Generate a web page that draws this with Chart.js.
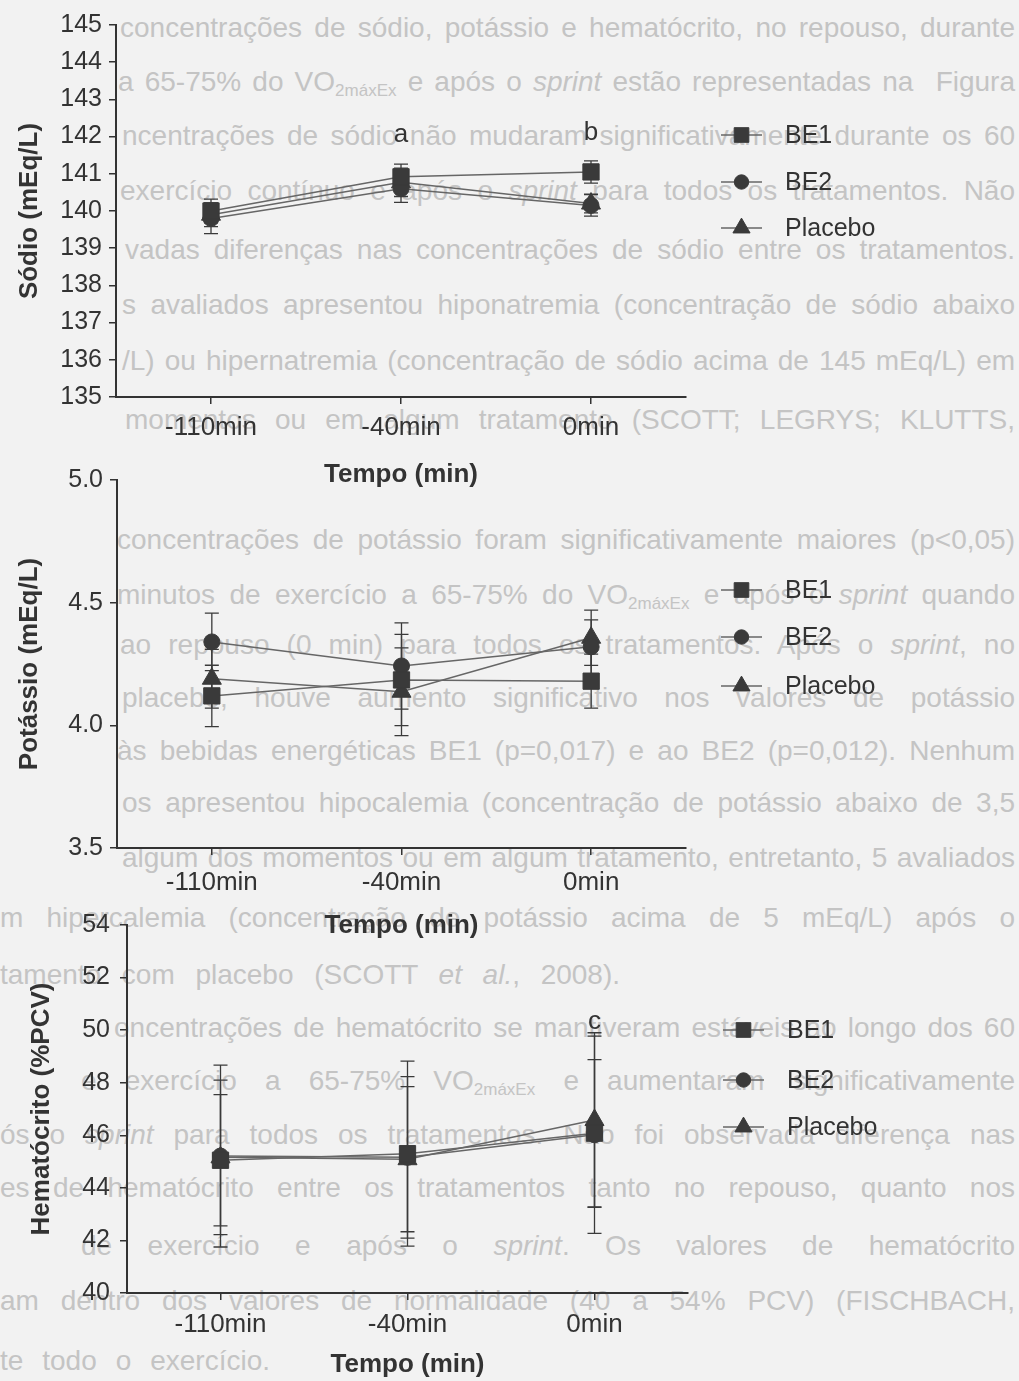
<!DOCTYPE html>
<html>
<head>
<meta charset="utf-8">
<script src="https://cdn.jsdelivr.net/npm/chart.js@4.4.0/dist/chart.umd.min.js"></script>
<style>
html,body{margin:0;padding:0;background:#f2f2f2;}
#page{position:relative;width:1019px;height:1381px;overflow:hidden;background:#f2f2f2;}
.bg{position:absolute;white-space:nowrap;font-family:'Liberation Sans',Arial,sans-serif;font-size:28px;line-height:28px;color:#c4c4c4;}
.bg sub{font-size:17px;vertical-align:-5px;line-height:0;}
canvas{position:absolute;left:0;}
</style>
</head>
<body>
<div id="page"></div>
<script>
// ---------------- data ----------------
const categories = ['-110min', '-40min', '0min'];
const seriesNames = ['BE1', 'BE2', 'Placebo'];

// Sódio (mEq/L)
const sodioBE1 = [140.00, 140.92, 141.05];
const sodioBE2 = [139.80, 140.60, 140.15];
const sodioPlacebo = [139.90, 140.77, 140.20];
const sodioErrBE1 = [0.32, 0.34, 0.30];
const sodioErrBE2 = [0.41, 0.37, 0.29];
const sodioErrPlacebo = [0.32, 0.38, 0.25];
const sodioTicks = [135, 136, 137, 138, 139, 140, 141, 142, 143, 144, 145];
const sodioLetters = [['a', 1, 141.85], ['b', 2, 141.92]];

// Potássio (mEq/L)
const potassioBE1 = [4.12, 4.185, 4.18];
const potassioBE2 = [4.34, 4.242, 4.32];
const potassioPlacebo = [4.19, 4.137, 4.357];
const potassioErrBE1 = [0.125, 0.186, 0.11];
const potassioErrBE2 = [0.117, 0.176, 0.11];
const potassioErrPlacebo = [0.12, 0.179, 0.113];
const potassioTicks = [3.5, 4.0, 4.5, 5.0];
const potassioLetters = [];

// Hematócrito (%PCV)
const hematBE1 = [45.05, 45.30, 46.08];
const hematBE2 = [45.21, 45.16, 46.02];
const hematPlacebo = [45.16, 45.09, 46.58];
const hematErrBE1 = [2.50, 3.52, 2.80];
const hematErrBE2 = [3.46, 3.07, 3.75];
const hematErrPlacebo = [2.94, 2.76, 3.32];
const hematTicks = [40, 42, 44, 46, 48, 50, 52, 54];
const hematLetters = [['c', 2, 50.04]];

// ---------------- background page text ----------------
const bodyLines = [
  ['concentrações de sódio, potássio e hematócrito, no repouso, durante', 30, 120, 1015],
  ['a 65-75% do VO<sub>2máxEx</sub> e após o <i>sprint</i> estão representadas na\u00a0 Figura', 84, 118, 1015],
  ['ncentrações de sódio não mudaram significativamente durante os 60', 138, 122, 1015],
  ['exercício contínuo e após o <i>sprint</i> para todos os tratamentos. Não', 193, 120, 1015],
  ['vadas diferenças nas concentrações de sódio entre os tratamentos.', 252, 125, 1015],
  ['s avaliados apresentou hiponatremia (concentração de sódio abaixo', 307, 122, 1015],
  ['/L) ou hipernatremia (concentração de sódio acima de 145 mEq/L) em', 363, 122, 1015],
  ['momentos ou em algum tratamento (SCOTT; LEGRYS; KLUTTS,', 422, 125, 1015],
  ['concentrações de potássio foram significativamente maiores (p&lt;0,05)', 542, 117, 1015],
  ['minutos de exercício a 65-75% do VO<sub>2máxEx</sub> e após o <i>sprint</i> quando', 597, 117, 1015],
  ['ao repouso (0 min) para todos os tratamentos. Após o <i>sprint</i>, no', 647, 120, 1015],
  ['placebo, houve aumento significativo nos valores de potássio', 700, 122, 1015],
  ['às bebidas energéticas BE1 (p=0,017) e ao BE2 (p=0,012). Nenhum', 753, 117, 1015],
  ['os apresentou hipocalemia (concentração de potássio abaixo de 3,5', 805, 122, 1015],
  ['algum dos momentos ou em algum tratamento, entretanto, 5 avaliados', 860, 122, 1015],
  ['m hipercalemia (concentração de potássio acima de 5 mEq/L) após o', 920, 0, 1015],
  ['tamento com placebo (SCOTT <i>et al.</i>, 2008).', 977, 0, 620],
  ['oncentrações de hematócrito se mantiveram estáveis ao longo dos 60', 1030, 114, 1015],
  ['e exercício a 65-75% VO<sub>2máxEx</sub> e aumentaram significativamente', 1083, 81, 1015],
  ['ós o <i>sprint</i> para todos os tratamentos. Não foi observada diferença nas', 1137, 0, 1015],
  ['es de hematócrito entre os tratamentos tanto no repouso, quanto nos', 1190, 0, 1015],
  ['de exercício e após o <i>sprint</i>. Os valores de hematócrito', 1248, 81, 1015],
  ['am dentro dos valores de normalidade (40 a 54% PCV) (FISCHBACH,', 1303, 0, 1015],
  ['te todo o exercício.', 1363, 0, 270]
];

const page = document.getElementById('page');
bodyLines.forEach(([html, yc, x0, x1]) => {
  const d = document.createElement('div');
  d.className = 'bg';
  d.innerHTML = html;
  d.style.left = x0 + 'px';
  d.style.top = (yc - 16.4) + 'px';
  page.appendChild(d);
  const w = d.getBoundingClientRect().width;
  const n = (d.textContent.match(/[ \u00a0]/g) || []).length;
  if (n > 0) d.style.wordSpacing = ((x1 - x0 - w) / n).toFixed(2) + 'px';
});

// ---------------- chart helpers ----------------
const FONT = "'Liberation Sans', Arial, sans-serif";
const AX = '#333333';
const MARK = '#3a3a3a';
const LINE = '#666666';

const errorBarPlugin = {
  id: 'errorBars',
  beforeDatasetsDraw(chart) {
    const {ctx} = chart;
    const y = chart.scales.y;
    ctx.save();
    ctx.strokeStyle = '#3a3a3a';
    ctx.lineWidth = 1.3;
    chart.data.datasets.forEach((ds, di) => {
      const meta = chart.getDatasetMeta(di);
      ds.errors.forEach((e, i) => {
        const px = meta.data[i].x;
        const yt = y.getPixelForValue(ds.data[i] + e);
        const yb = y.getPixelForValue(ds.data[i] - e);
        ctx.beginPath();
        ctx.moveTo(px, yt); ctx.lineTo(px, yb);
        ctx.moveTo(px - 7, yt); ctx.lineTo(px + 7, yt);
        ctx.moveTo(px - 7, yb); ctx.lineTo(px + 7, yb);
        ctx.stroke();
      });
    });
    ctx.restore();
  }
};

const letterPlugin = {
  id: 'letters',
  afterDatasetsDraw(chart, args, opts) {
    const {ctx} = chart;
    const {x, y} = chart.scales;
    ctx.save();
    ctx.fillStyle = AX;
    ctx.font = '26px ' + FONT;
    ctx.textAlign = 'center';
    ctx.textBaseline = 'alphabetic';
    (opts.items || []).forEach(([t, idx, v]) => {
      ctx.fillText(t, x.getPixelForValue(idx), y.getPixelForValue(v));
    });
    ctx.restore();
  }
};

const lineLegendPlugin = {
  id: 'lineLegend',
  afterDraw(chart, args, opts) {
    const {ctx, chartArea} = chart;
    ctx.save();
    chart.data.datasets.forEach((ds, i) => {
      const yy = chartArea.top + opts.rows[i];
      const x1 = chartArea.right + 35, x2 = chartArea.right + 76;
      ctx.strokeStyle = LINE;
      ctx.lineWidth = 1.5;
      ctx.beginPath(); ctx.moveTo(x1, yy); ctx.lineTo(x2, yy); ctx.stroke();
      ctx.fillStyle = MARK;
      ctx.strokeStyle = MARK;
      ctx.lineWidth = 1;
      Chart.helpers.drawPoint(ctx, {pointStyle: ds.pointStyle, radius: ds.pointRadius * 0.9, rotation: 0, borderWidth: 1}, (x1 + x2) / 2, yy);
      ctx.fillStyle = AX;
      ctx.font = '25px ' + FONT;
      ctx.textAlign = 'left';
      ctx.textBaseline = 'middle';
      ctx.fillText(ds.label, chartArea.right + 99, yy + 1);
    });
    ctx.restore();
  }
};

function dataset(label, data, errors, style, radius) {
  return {
    label, data, errors,
    borderColor: LINE, borderWidth: 1.5,
    pointStyle: style, pointRadius: radius, pointHoverRadius: radius,
    pointBackgroundColor: MARK, pointBorderColor: MARK, pointBorderWidth: 1,
    fill: false, tension: 0
  };
}

function buildChart(c) {
  const canvas = document.createElement('canvas');
  canvas.width = 1019; canvas.height = c.canvasH;
  canvas.style.width = '1019px'; canvas.style.height = c.canvasH + 'px';
  canvas.style.top = c.canvasTop + 'px';
  page.appendChild(canvas);
  const tickArr = c.ticks;
  new Chart(canvas.getContext('2d'), {
    type: 'line',
    data: {
      labels: categories,
      datasets: [
        dataset(seriesNames[0], c.values[0], c.errors[0], 'rect', 11.5),
        dataset(seriesNames[1], c.values[1], c.errors[1], 'circle', 8),
        dataset(seriesNames[2], c.values[2], c.errors[2], 'triangle', 11)
      ]
    },
    options: {
      responsive: false, animation: false, devicePixelRatio: 1,
      layout: {padding: {top: c.padTop, right: c.padRight, left: 0, bottom: 0}},
      plugins: {
        legend: {display: false},
        tooltip: {enabled: false},
        letters: {items: c.letters},
        lineLegend: {rows: c.legendRows}
      },
      scales: {
        x: {
          type: 'category', offset: true,
          grid: {display: true, drawOnChartArea: false, drawTicks: true, tickLength: 7, offset: false, color: AX, lineWidth: 1.5},
          border: {display: true, color: AX, width: 2},
          ticks: {color: AX, font: {family: FONT, size: 26}, padding: c.xTickPad, maxRotation: 0, autoSkip: false},
          title: {display: true, text: 'Tempo (min)', color: AX, font: {family: FONT, size: 26, weight: 'bold'}, padding: {top: 0, bottom: c.xTitlePad}},
          afterFit: s => { s.height = c.xHeight; }
        },
        y: {
          type: 'linear', min: tickArr[0], max: tickArr[tickArr.length - 1],
          afterBuildTicks: s => { s.ticks = tickArr.map(v => ({value: v})); },
          grid: {display: true, drawOnChartArea: false, drawTicks: true, tickLength: 7, color: AX, lineWidth: 1.5},
          border: {display: true, color: AX, width: 2},
          ticks: {color: AX, font: {family: FONT, size: 25}, padding: c.yTickPad, callback: c.fmt},
          title: {display: true, text: c.yTitle, color: AX, font: {family: FONT, size: 26, weight: 'bold'}, padding: {top: c.yTitlePad, bottom: 0}},
          afterFit: s => { s.width = c.yWidth; }
        }
      }
    },
    plugins: [errorBarPlugin, letterPlugin, lineLegendPlugin]
  });
}

buildChart({
  canvasTop: 0, canvasH: 510, padTop: 25, padRight: 333, xHeight: 113, yWidth: 116,
  xTickPad: 8, xTitlePad: 20, yTickPad: 7, yTitlePad: 14,
  yTitle: 'Sódio (mEq/L)', ticks: sodioTicks, fmt: v => String(v),
  values: [sodioBE1, sodioBE2, sodioPlacebo],
  errors: [sodioErrBE1, sodioErrBE2, sodioErrPlacebo],
  letters: sodioLetters, legendRows: [110, 157, 203]
});

buildChart({
  canvasTop: 455, canvasH: 510, padTop: 25, padRight: 333, xHeight: 117, yWidth: 117,
  xTickPad: 12, xTitlePad: 24, yTickPad: 7, yTitlePad: 14,
  yTitle: 'Potássio (mEq/L)', ticks: potassioTicks, fmt: v => Number(v).toFixed(1),
  values: [potassioBE1, potassioBE2, potassioPlacebo],
  errors: [potassioErrBE1, potassioErrBE2, potassioErrPlacebo],
  letters: potassioLetters, legendRows: [110, 157, 206]
});

buildChart({
  canvasTop: 900, canvasH: 481, padTop: 25, padRight: 331, xHeight: 88, yWidth: 127,
  xTickPad: 9, xTitlePad: 1, yTickPad: 10, yTitlePad: 26,
  yTitle: 'Hematócrito (%PCV)', ticks: hematTicks, fmt: v => String(v),
  values: [hematBE1, hematBE2, hematPlacebo],
  errors: [hematErrBE1, hematErrBE2, hematErrPlacebo],
  letters: hematLetters, legendRows: [105, 155, 202]
});
</script>
</body>
</html>
